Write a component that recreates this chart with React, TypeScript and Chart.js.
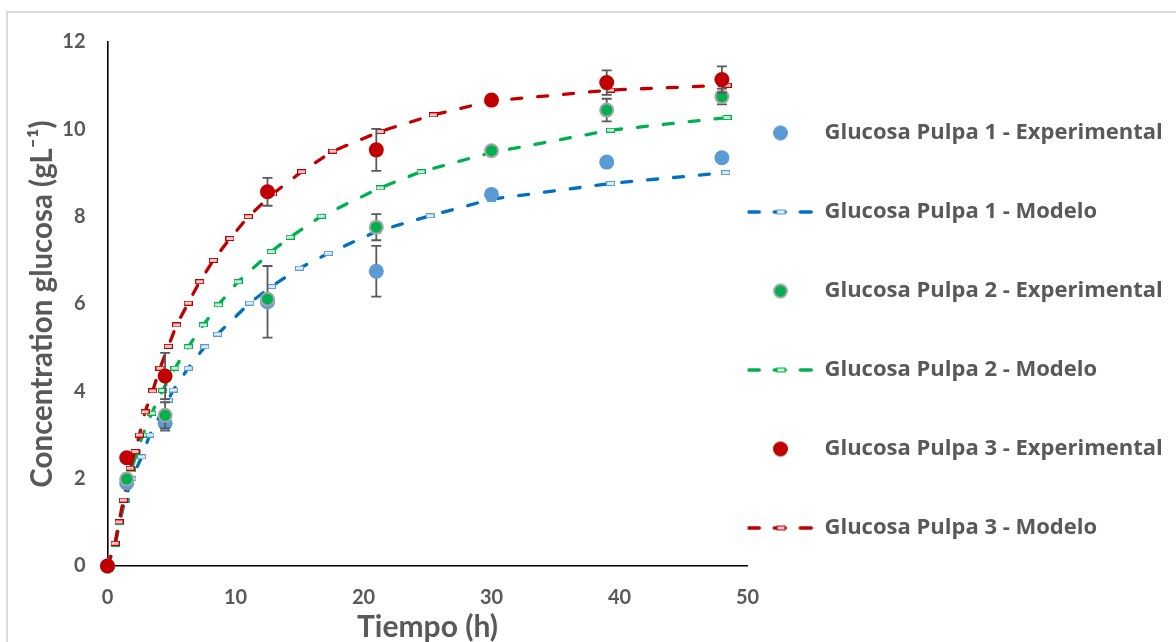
import React, { useEffect, useRef } from "react";
import { Chart, registerables } from "chart.js";

Chart.register(...registerables);

// ---------- data ----------
const TIME_H = [0, 1.5, 4.5, 12.5, 21, 30, 39, 48];
const EXP_P1 = [0, 1.9, 3.27, 6.05, 6.75, 8.51, 9.25, 9.35];
const EXP_P2 = [0, 1.99, 3.45, 6.11, 7.76, 9.51, 10.44, 10.75];
const EXP_P3 = [0, 2.48, 4.35, 8.57, 9.53, 10.67, 11.07, 11.14];
const ERR_P1 = [0, 0, 0.17, 0.82, 0.58, 0, 0, 0];
const ERR_P2 = [0, 0, 0.3, 0, 0.3, 0, 0.26, 0.18];
const ERR_P3 = [0, 0, 0.53, 0.32, 0.48, 0, 0.28, 0.3];

const MOD_P1_T = [0, 0.6, 0.95, 1.37, 1.9, 2.67, 3.3, 4.75, 5.14, 6.3, 7.6, 8.6, 11.1, 12.8, 15.0, 17.25, 21, 25.2, 30, 39.3, 48.3];
const MOD_P1_V = [0, 0.5, 1.0, 1.51, 2.0, 2.5, 3.0, 3.8, 4.03, 4.53, 5.02, 5.31, 6.02, 6.4, 6.82, 7.16, 7.66, 8.02, 8.4, 8.76, 9.01];
const MOD_P2_T = [0, 0.6, 0.95, 1.3, 1.85, 2.3, 2.75, 3.45, 4.3, 5.27, 6.31, 7.49, 8.66, 10.2, 12.8, 14.26, 16.7, 21.3, 24.5, 30, 39.3, 48.4];
const MOD_P2_V = [0, 0.5, 1.0, 1.5, 2.2, 2.6, 3.0, 3.5, 4.02, 4.53, 5.02, 5.52, 5.98, 6.51, 7.2, 7.53, 8.01, 8.66, 9.03, 9.47, 9.98, 10.27];
const MOD_P3_T = [0, 0.59, 0.9, 1.24, 1.76, 2.15, 2.49, 2.93, 3.53, 4.1, 4.75, 5.4, 6.3, 7.2, 8.27, 9.57, 11.0, 12.9, 15.17, 17.6, 21.3, 25.45, 30, 39.3, 48.4];
const MOD_P3_V = [0, 0.52, 1.01, 1.51, 2.24, 2.62, 3.0, 3.53, 4.01, 4.53, 5.03, 5.52, 6.02, 6.51, 7.0, 7.5, 8.0, 8.52, 9.03, 9.5, 9.95, 10.33, 10.65, 10.9, 11.01];

const LABELS = [
  "Glucosa Pulpa 1 - Experimental",
  "Glucosa Pulpa 1 - Modelo",
  "Glucosa Pulpa 2 - Experimental",
  "Glucosa Pulpa 2 - Modelo",
  "Glucosa Pulpa 3 - Experimental",
  "Glucosa Pulpa 3 - Modelo",
];
const X_TITLE = "Tiempo (h)";
const Y_TITLE = "Concentration glucosa (gL\u207B\u00B9)";
const X_MIN = 0, X_MAX = 50, X_STEP = 10;
const Y_MIN = 0, Y_MAX = 12, Y_STEP = 2;

// ---------- styles / layout ----------
const FONT = "Lato, 'Open Sans', sans-serif";
const LEGEND_FAMILY = "'Open Sans', Lato, sans-serif";
const TEXT = "#595959";
const BLUE_PT = "#5B9BD5";
const BLUE_LN = "#0070C0";
const GREEN = "#00B050";
const GREEN_BD = "#A5A5A5";
const RED = "#C00000";
const LEGEND_FONT = 22;
const LEGEND_SYMBOL_W = 66;
const PLOT_RIGHT = 747.5;
const PLOT_BOTTOM = 566;
const CANVAS_H = 676;

function dotImage(fill: string, stroke: string | null, r: number, bw: number) {
  const size = Math.ceil(2 * (r + bw)) + 2;
  const c = document.createElement("canvas");
  c.width = size; c.height = size;
  const g = c.getContext("2d")!;
  g.beginPath();
  g.arc(size / 2, size / 2, r, 0, Math.PI * 2);
  g.fillStyle = fill; g.fill();
  if (stroke && bw) { g.lineWidth = bw; g.strokeStyle = stroke; g.stroke(); }
  return c;
}

function markerImage(stroke: string, fill: string) {
  const c = document.createElement("canvas");
  c.width = 9; c.height = 5;
  const g = c.getContext("2d")!;
  g.fillStyle = fill; g.fillRect(0.5, 0.5, 8, 4);
  g.strokeStyle = stroke; g.lineWidth = 1; g.strokeRect(0.5, 0.5, 8, 4);
  return c;
}

function dashImage(color: string, mStroke: string, mFill: string) {
  const c = document.createElement("canvas");
  c.width = 68; c.height = 10;
  const g = c.getContext("2d")!;
  g.strokeStyle = color; g.lineWidth = 3.5; g.lineCap = "round";
  g.setLineDash([11, 15]);
  g.beginPath(); g.moveTo(1.8, 5); g.lineTo(66.5, 5); g.stroke();
  g.setLineDash([]);
  g.fillStyle = mFill; g.fillRect(30.5, 3, 8, 4);
  g.strokeStyle = mStroke; g.lineWidth = 1; g.strokeRect(30.5, 3, 8, 4);
  return c;
}

const pts = (xs: number[], ys: number[]) => xs.map((x, i) => ({ x, y: ys[i] }));

const errorBarPlugin = {
  id: "errorBars",
  beforeDatasetDraw(chart: any, args: any) {
    const ds = chart.data.datasets[args.index];
    const errs: number[] | undefined = ds.errorBars;
    if (!errs) return;
    const xs = chart.scales.x, ys = chart.scales.y;
    const ctx = chart.ctx;
    ctx.save();
    ctx.strokeStyle = TEXT;
    ctx.lineWidth = 1.8;
    ds.data.forEach((p: any, i: number) => {
      const e = errs[i];
      if (!e) return;
      const px = xs.getPixelForValue(p.x);
      const t = ys.getPixelForValue(p.y + e);
      const b = ys.getPixelForValue(p.y - e);
      ctx.beginPath();
      ctx.moveTo(px, t); ctx.lineTo(px, b);
      ctx.moveTo(px - 5, t); ctx.lineTo(px + 5, t);
      ctx.moveTo(px - 5, b); ctx.lineTo(px + 5, b);
      ctx.stroke();
    });
    ctx.restore();
  },
};

export default function App() {
  const ref = useRef<HTMLCanvasElement>(null);

  useEffect(() => {
    const canvas = ref.current;
    if (!canvas) return;

    // legend width so that the plot area ends at PLOT_RIGHT
    const mctx = document.createElement("canvas").getContext("2d")!;
    mctx.font = `bold ${LEGEND_FONT}px ${LEGEND_FAMILY}`;
    const maxText = Math.max(...LABELS.map((l) => mctx.measureText(l).width));
    const legendW = LEGEND_SYMBOL_W + LEGEND_FONT / 2 + maxText + 10;
    const W = Math.max(1176, Math.ceil(PLOT_RIGHT + legendW + 1));
    const padRight = W - PLOT_RIGHT - legendW;
    canvas.width = W;
    canvas.height = CANVAS_H;

    const mk1 = markerImage(BLUE_PT, "#DDEBF7");
    const mk2 = markerImage(GREEN, "#C6EFD3");
    const mk3 = markerImage(RED, "#F8C8C8");

    const legendImgs = [
      dotImage(BLUE_PT, null, 7.5, 0),
      dashImage(BLUE_LN, BLUE_PT, "#DDEBF7"),
      dotImage(GREEN, GREEN_BD, 6.5, 2),
      dashImage(GREEN, GREEN, "#C6EFD3"),
      dotImage(RED, null, 7.5, 0),
      dashImage(RED, RED, "#F8C8C8"),
    ];

    const modelBase = {
      showLine: true,
      borderWidth: 3.3,
      borderDash: [10, 16],
      borderCapStyle: "round" as const,
      tension: 0,
      fill: false,
      pointRadius: 3,
      pointBorderWidth: 0,
      clip: false,
    };

    const chart = new Chart(canvas, {
      type: "scatter",
      data: {
        datasets: [
          {
            label: LABELS[0],
            data: pts(TIME_H, EXP_P1),
            backgroundColor: BLUE_PT,
            borderWidth: 0,
            pointRadius: 7.5,
            order: 2,
            clip: false,
            errorBars: ERR_P1,
          } as any,
          {
            ...modelBase,
            label: LABELS[1],
            data: pts(MOD_P1_T, MOD_P1_V),
            borderColor: BLUE_LN,
            pointStyle: mk1,
            order: 5,
          } as any,
          {
            label: LABELS[2],
            data: pts(TIME_H, EXP_P2),
            backgroundColor: GREEN,
            borderColor: GREEN_BD,
            borderWidth: 2,
            pointRadius: 6.5,
            order: 1,
            clip: false,
            errorBars: ERR_P2,
          } as any,
          {
            ...modelBase,
            label: LABELS[3],
            data: pts(MOD_P2_T, MOD_P2_V),
            borderColor: GREEN,
            pointStyle: mk2,
            order: 4,
          } as any,
          {
            label: LABELS[4],
            data: pts(TIME_H, EXP_P3),
            backgroundColor: RED,
            borderWidth: 0,
            pointRadius: 7.5,
            order: 0,
            clip: false,
            errorBars: ERR_P3,
          } as any,
          {
            ...modelBase,
            label: LABELS[5],
            data: pts(MOD_P3_T, MOD_P3_V),
            borderColor: RED,
            pointStyle: mk3,
            order: 3,
          } as any,
        ],
      },
      options: {
        responsive: false,
        animation: false,
        events: [],
        layout: { padding: { top: 42, left: 0, right: padRight, bottom: 0 } },
        scales: {
          x: {
            type: "linear",
            min: X_MIN,
            max: X_MAX,
            afterFit: (s: any) => { s.height = CANVAS_H - PLOT_BOTTOM; },
            ticks: {
              stepSize: X_STEP,
              padding: 20,
              color: TEXT,
              font: { family: FONT, size: 20, weight: "bold" },
            },
            grid: { display: true, drawOnChartArea: false, drawTicks: false },
            border: { display: true, color: "#000000", width: 1.6 },
            title: {
              display: true,
              text: X_TITLE,
              color: TEXT,
              font: { family: FONT, size: 30, weight: "bold" },
              padding: { top: 0, bottom: 31 },
            },
          },
          y: {
            type: "linear",
            min: Y_MIN,
            max: Y_MAX,
            afterFit: (s: any) => { s.width = 107.5; },
            ticks: {
              stepSize: Y_STEP,
              padding: 22,
              color: TEXT,
              font: { family: FONT, size: 20, weight: "bold" },
            },
            grid: { display: true, drawOnChartArea: false, drawTicks: false },
            border: { display: true, color: "#000000", width: 1.6 },
            title: {
              display: true,
              text: Y_TITLE,
              color: TEXT,
              font: { family: FONT, size: 29.5, weight: "bold" },
              padding: { top: 25, bottom: 0 },
            },
          },
        },
        plugins: {
          tooltip: { enabled: false },
          legend: {
            display: true,
            position: "right",
            align: "center",
            maxWidth: legendW,
            labels: {
              usePointStyle: true,
              pointStyleWidth: LEGEND_SYMBOL_W,
              padding: 0,
              color: TEXT,
              font: { family: LEGEND_FAMILY, size: LEGEND_FONT, weight: "bold", lineHeight: 79 / LEGEND_FONT },
              generateLabels: (ch: any) =>
                ch.data.datasets.map((ds: any, i: number) => ({
                  text: [ds.label],
                  pointStyle: legendImgs[i],
                  fillStyle: "rgba(0,0,0,0)",
                  strokeStyle: "rgba(0,0,0,0)",
                  lineWidth: 0,
                  hidden: false,
                  datasetIndex: i,
                  fontColor: TEXT,
                })),
            },
          },
        },
      } as any,
      plugins: [errorBarPlugin as any],
    });

    return () => chart.destroy();
  }, []);

  return (
    <div style={{ position: "fixed", left: 0, top: 0, width: 1176, height: 642, overflow: "hidden", background: "#ffffff" }}>
      <div style={{ position: "absolute", left: 6, top: 11, width: 1200, height: 700, border: "2px solid #D9D9D9" }} />
      <canvas ref={ref} width={1176} height={CANVAS_H} style={{ position: "absolute", left: 0, top: 0, display: "block" }} />
    </div>
  );
}
